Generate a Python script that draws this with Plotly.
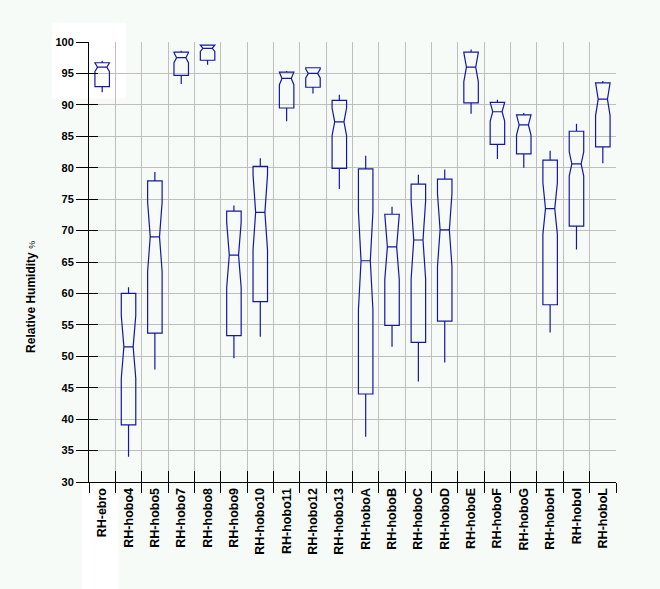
import plotly.graph_objects as go

categories = ["RH-ebro", "RH-hobo4", "RH-hobo5", "RH-hobo7", "RH-hobo8", "RH-hobo9",
              "RH-hobo10", "RH-hobo11", "RH-hobo12", "RH-hobo13", "RH-hoboA", "RH-hoboB",
              "RH-hoboC", "RH-hoboD", "RH-hoboE", "RH-hoboF", "RH-hoboG", "RH-hoboH",
              "RH-hoboI", "RH-hoboL"]
lower_whisker = [92.0, 34.0, 47.9, 93.3, 96.4, 49.7, 53.1, 87.4, 91.8, 76.6,
                 37.2, 51.5, 46.0, 49.0, 88.6, 81.4, 80.0, 53.8, 67.0, 80.7]
q1_values = [92.9, 39.1, 53.7, 94.7, 97.1, 53.3, 58.7, 89.5, 92.8, 79.9,
             44.0, 54.9, 52.2, 55.6, 90.3, 83.7, 82.2, 58.2, 70.7, 83.3]
median_values = [96.0, 51.5, 69.0, 97.5, 99.0, 66.1, 72.9, 94.2, 95.0, 87.3,
                 65.2, 67.4, 68.5, 70.1, 96.0, 88.9, 86.8, 73.5, 80.6, 90.9]
q3_values = [96.7, 60.0, 77.9, 98.4, 99.5, 73.1, 80.2, 95.2, 95.9, 90.7,
             79.8, 72.6, 77.4, 78.2, 98.4, 90.4, 88.4, 81.2, 85.8, 93.5]
upper_whisker = [97.0, 61.0, 79.3, 98.6, 99.6, 74.0, 81.5, 95.4, 96.0, 91.6,
                 81.9, 73.8, 78.9, 79.7, 98.8, 90.8, 88.7, 82.7, 87.0, 93.8]
notch_values = [1.1, 5.0, 5.5, 0.8, 0.6, 5.2, 6.0, 1.5, 0.7, 2.2,
                7.8, 5.3, 6.2, 5.8, 2.3, 1.5, 1.6, 4.1, 1.9, 2.7]

y_ticks = list(range(30, 101, 5))

# notch limited to stay inside the box (as in the reference rendering)
notch_drawn = [min(n, q3 - m, m - q1) for n, q1, m, q3 in
               zip(notch_values, q1_values, median_values, q3_values)]

BG = "#F6FBF8"
BLUE = "#1616A2"
GRID = "#BEBEBE"
FONT = "Arial, Liberation Sans, sans-serif"

fig = go.Figure()
fig.add_trace(go.Box(
    x=categories, q1=q1_values, median=median_values, q3=q3_values,
    lowerfence=lower_whisker, upperfence=upper_whisker,
    notched=True, notchspan=notch_drawn, notchwidth=0.18,
    width=0.55, whiskerwidth=0,
    line=dict(color=BLUE, width=1.2), fillcolor="rgba(0,0,0,0)",
    boxpoints=False, showlegend=False,
))
# helper trace to carry the overlay axes (inside tick marks)
fig.add_trace(go.Scatter(x=categories, y=[None] * len(categories), xaxis="x2", yaxis="y2",
                         mode="markers", showlegend=False, hoverinfo="skip"))

fig.update_layout(
    width=660, height=589, autosize=False,
    margin=dict(l=89, r=44, t=42, b=107, pad=0),
    paper_bgcolor=BG, plot_bgcolor="rgba(0,0,0,0)",
    font=dict(family=FONT, color="black"),
    xaxis=dict(type="category", categoryorder="array", categoryarray=categories,
               range=[-0.5, len(categories) - 0.5], tickson="boundaries",
               ticks="outside", ticklen=10, tickcolor="black", tickwidth=1,
               showgrid=True, gridcolor=GRID, gridwidth=1,
               showline=True, linecolor="black", linewidth=1,
               tickangle=-90, tickfont=dict(family=FONT, size=12.5, color="black", weight="bold"),
               zeroline=False, fixedrange=True),
    yaxis=dict(range=[30, 100], tickmode="array", tickvals=y_ticks,
               ticks="outside", ticklen=12, tickcolor="black", tickwidth=1,
               showgrid=True, gridcolor=GRID, gridwidth=1,
               showline=True, linecolor="black", linewidth=1,
               tickfont=dict(family=FONT, size=11, color="black", weight="bold"),
               zeroline=False, fixedrange=True),
    xaxis2=dict(type="category", categoryorder="array", categoryarray=categories,
                range=[-0.5, len(categories) - 0.5], tickson="boundaries",
                overlaying="x", side="bottom", ticks="inside", ticklen=11,
                tickcolor="black", tickwidth=1, showticklabels=False,
                showgrid=False, showline=False, zeroline=False, fixedrange=True),
    yaxis2=dict(range=[30, 100], tickmode="array", tickvals=y_ticks,
                overlaying="y", side="left", ticks="inside", ticklen=9,
                tickcolor="black", tickwidth=1, showticklabels=False,
                showgrid=False, showline=False, zeroline=False, fixedrange=True),
    annotations=[dict(
        text="<b>Relative Humidity</b> <span style='font-size:9px'>%</span>",
        xref="paper", yref="paper", x=-0.1106, y=0.42, textangle=-90,
        xanchor="center", yanchor="middle", showarrow=False,
        font=dict(family=FONT, size=12, color="black"))],
    shapes=[
        dict(type="rect", xref="paper", yref="paper", layer="below",
             x0=-0.0702, x1=0.0702, y0=0.872, y1=1.0439,
             fillcolor="white", line=dict(width=0)),
        dict(type="rect", xref="paper", yref="paper", layer="below",
             x0=-0.0133, x1=0.0556, y0=-0.243, y1=0.0,
             fillcolor="white", line=dict(width=0)),
    ],
)

fig.write_html(
    "out.html",
    config={"displayModeBar": False},
    post_script=("document.body.style.margin='0px';"
                 "document.body.style.background='" + BG + "';"),
)
